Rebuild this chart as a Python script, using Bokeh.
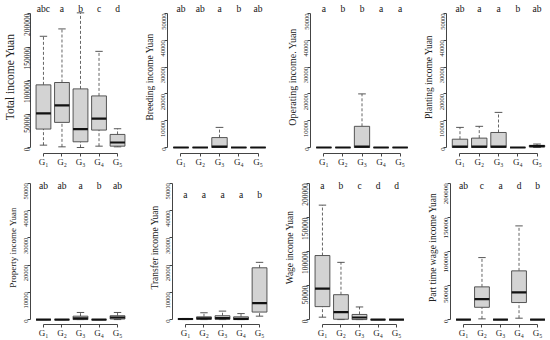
from bokeh.plotting import figure
from bokeh.layouts import column, row
from bokeh.models import FixedTicker, BasicTickFormatter, ColumnDataSource
from bokeh.core.properties import value
from bokeh.embed import file_html
from bokeh.resources import INLINE

# ---------------- data ----------------
groups = ["G\u2081", "G\u2082", "G\u2083", "G\u2084", "G\u2085"]
group_pos = [1, 2, 3, 4, 5]

total_low = [3500, 1000, 0, 2000, 1000]
total_q1 = [27500, 37500, 8500, 26000, 2000]
total_med = [51000, 63000, 27500, 43000, 7500]
total_q3 = [93500, 97000, 87500, 77000, 19500]
total_high = [166000, 177000, 201000, 143500, 28000]
total_letters = ["abc", "a", "b", "c", "d"]

breeding_low = [0, 0, 0, 0, 0]
breeding_q1 = [0, 0, 0, 0, 0]
breeding_med = [0, 0, 300, 0, 0]
breeding_q3 = [0, 0, 3700, 0, 0]
breeding_high = [0, 0, 7500, 0, 0]
breeding_letters = ["ab", "ab", "a", "b", "ab"]

operating_low = [0, 0, 0, 0, 0]
operating_q1 = [0, 0, 0, 0, 0]
operating_med = [0, 0, 300, 0, 0]
operating_q3 = [0, 0, 7900, 0, 0]
operating_high = [0, 0, 20000, 0, 0]
operating_letters = ["a", "b", "b", "a", "a"]

planting_low = [0, 0, 0, 0, 0]
planting_q1 = [0, 0, 0, 0, 200]
planting_med = [300, 300, 300, 0, 500]
planting_q3 = [3100, 3500, 5600, 0, 800]
planting_high = [7500, 7900, 13100, 0, 1300]
planting_letters = ["ab", "a", "a", "b", "ab"]

property_low = [0, 0, 0, 0, 0]
property_q1 = [0, 0, 0, 0, 200]
property_med = [0, 0, 400, 0, 750]
property_q3 = [0, 0, 1250, 0, 1400]
property_high = [0, 0, 2600, 0, 2600]
property_letters = ["ab", "ab", "a", "b", "ab"]

transfer_low = [0, 0, 0, 0, 1250]
transfer_q1 = [0, 100, 100, 0, 2750]
transfer_med = [200, 400, 500, 250, 6000]
transfer_q3 = [400, 1000, 1400, 1000, 19000]
transfer_high = [400, 2500, 3100, 2200, 21000]
transfer_letters = ["a", "a", "a", "a", "b"]

wage_low = [3500, 0, 0, 0, 0]
wage_q1 = [19000, 500, 0, 0, 0]
wage_med = [45500, 11000, 3000, 0, 0]
wage_q3 = [94000, 36500, 7500, 0, 0]
wage_high = [168000, 84000, 18500, 0, 0]
wage_letters = ["a", "b", "c", "d", "d"]

parttime_low = [0, 1000, 0, 2000, 0]
parttime_q1 = [0, 18000, 0, 25000, 0]
parttime_med = [0, 30000, 0, 40000, 0]
parttime_q3 = [0, 48000, 0, 71500, 0]
parttime_high = [0, 91000, 0, 137500, 0]
parttime_letters = ["ab", "c", "a", "d", "b"]

y_ticks_200k = [0, 50000, 100000, 150000, 200000]
y_ticks_50k = [0, 10000, 20000, 30000, 40000, 50000]

titles = ["Total income Yuan", "Breeding income Yuan", "Operating income. Yuan",
          "Planting income Yuan", "Property income Yuan", "Transfer income Yuan",
          "Wage income Yuan", "Part time wage income Yuan"]

panels = [
    (titles[0], total_low, total_q1, total_med, total_q3, total_high, total_letters, y_ticks_200k),
    (titles[1], breeding_low, breeding_q1, breeding_med, breeding_q3, breeding_high, breeding_letters, y_ticks_50k),
    (titles[2], operating_low, operating_q1, operating_med, operating_q3, operating_high, operating_letters, y_ticks_50k),
    (titles[3], planting_low, planting_q1, planting_med, planting_q3, planting_high, planting_letters, y_ticks_50k),
    (titles[4], property_low, property_q1, property_med, property_q3, property_high, property_letters, y_ticks_50k),
    (titles[5], transfer_low, transfer_q1, transfer_med, transfer_q3, transfer_high, transfer_letters, y_ticks_50k),
    (titles[6], wage_low, wage_q1, wage_med, wage_q3, wage_high, wage_letters, y_ticks_200k),
    (titles[7], parttime_low, parttime_q1, parttime_med, parttime_q3, parttime_high, parttime_letters, y_ticks_200k),
]

# ---------------- layout / style ----------------
FONT = "Liberation Serif"
fig_h = 170
# per row: figure widths, left border, frame width
row_widths = [[141, 142, 137, 130], [142, 137, 141, 130]]
row_left = [26, 30]
row_frame_w = [104, 100]
# per row: (min_border_top, px of max tick, px of zero, px of frame bottom, min_border_bottom)
row_layout = [(0, 13, 147, 153, 17), (0, 13, 151, 156, 14)]
letter_px = [8, 8, 8, 8, 16, 25, 16, 16]
title_sizes = ["11.5px", "9.5px", "10px", "9.5px", "9px", "9.5px", "9.5px", "9.5px"]
tick_sizes = ["7.5px", "6.5px", "6.5px", "6.5px", "6.5px", "6.5px", "7.5px", "7px"]

BOX_W = 0.8
CAP_W = 0.4

figs = []
for i, (title, lo, q1, med, q3, hi, letters, ticks) in enumerate(panels):
    r = i // 4
    c = i % 4
    mbt, max_px, zero_px, fb_px, mbb = row_layout[r]
    ymax = ticks[-1]
    unit = ymax / (zero_px - max_px)
    y_start = -(fb_px - zero_px) * unit
    y_end = ymax + (max_px - mbt) * unit
    w = row_widths[r][c]
    lb = row_left[r]
    p = figure(width=w, height=fig_h, x_range=(0.3, 5.7), y_range=(y_start, y_end),
               output_backend="svg", toolbar_location=None,
               min_border_left=lb, min_border_right=max(w - lb - row_frame_w[r], 0),
               min_border_top=mbt, min_border_bottom=mbb)
    p.outline_line_color = None
    p.grid.visible = False
    p.background_fill_color = "white"

    src = ColumnDataSource(dict(
        x=group_pos, lo=lo, q1=q1, med=med, q3=q3, hi=hi,
        xl=[g - BOX_W / 2 for g in group_pos], xr=[g + BOX_W / 2 for g in group_pos],
        cl=[g - CAP_W / 2 for g in group_pos], cr=[g + CAP_W / 2 for g in group_pos],
    ))
    # whiskers
    p.segment(x0="x", y0="q3", x1="x", y1="hi", source=src, line_color="#555555",
              line_width=0.9, line_dash="3 2")
    p.segment(x0="x", y0="lo", x1="x", y1="q1", source=src, line_color="#555555",
              line_width=0.9, line_dash="3 2")
    p.segment(x0="cl", y0="hi", x1="cr", y1="hi", source=src, line_color="#444444", line_width=0.9)
    p.segment(x0="cl", y0="lo", x1="cr", y1="lo", source=src, line_color="#444444", line_width=0.9)
    # boxes
    p.vbar(x="x", width=BOX_W, bottom="q1", top="q3", source=src,
           fill_color="#d3d3d3", line_color="#444444", line_width=0.9)
    # medians
    p.segment(x0="xl", y0="med", x1="xr", y1="med", source=src, line_color="#111111", line_width=2.2)

    # significance letters
    ly = ymax + (max_px - letter_px[i]) * unit
    lsrc = ColumnDataSource(dict(x=group_pos, y=[ly] * 5, t=letters))
    p.text(x="x", y="y", text="t", source=lsrc, text_font=value(FONT), text_font_size="9.5px",
           text_align="center", text_baseline="middle", text_color="#111111")

    # y axis
    ya = p.yaxis[0]
    ya.ticker = FixedTicker(ticks=ticks)
    ya.formatter = BasicTickFormatter(use_scientific=False)
    ya.bounds = (0, ymax)
    ya.major_label_orientation = 3.14159265 / 2
    ya.major_label_text_font = FONT
    ya.major_label_text_font_size = tick_sizes[i]
    ya.major_label_text_color = "#222222"
    ya.major_label_standoff = 1
    ya.major_tick_out = 3
    ya.major_tick_in = 0
    ya.minor_tick_line_color = None
    ya.axis_line_color = "#444444"
    ya.major_tick_line_color = "#444444"
    ya.axis_label = title
    ya.axis_label_text_font = FONT
    ya.axis_label_text_font_style = "normal"
    ya.axis_label_text_font_size = title_sizes[i]
    ya.axis_label_text_color = "#222222"
    ya.axis_label_standoff = 2

    # x axis
    xa = p.xaxis[0]
    xa.ticker = FixedTicker(ticks=group_pos)
    xa.major_label_overrides = {g: lab for g, lab in zip(group_pos, groups)}
    xa.bounds = (1, 5)
    xa.major_label_text_font = FONT
    xa.major_label_text_font_size = "9px"
    xa.major_label_text_color = "#222222"
    xa.major_label_standoff = 0
    xa.major_tick_out = 3
    xa.major_tick_in = 0
    xa.minor_tick_line_color = None
    xa.axis_line_color = "#444444"
    xa.major_tick_line_color = "#444444"

    figs.append(p)

layout = column(row(*figs[0:4]), row(*figs[4:8]))

open("out.html", "w").write(file_html(layout, INLINE))
